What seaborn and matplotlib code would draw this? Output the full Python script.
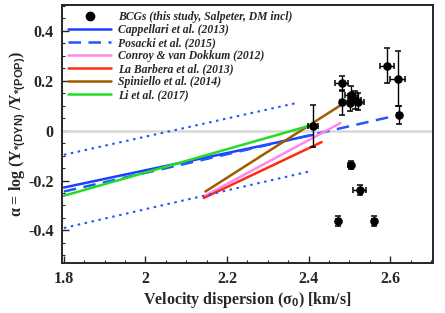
import matplotlib
matplotlib.use("Agg")
import matplotlib.pyplot as plt
import numpy as np
import pandas as pd
import seaborn as sns
from matplotlib.lines import Line2D
from matplotlib.ticker import FuncFormatter, MultipleLocator

# BCG measurements (this study)
bcg_sigma = [2.411, 2.481, 2.481, 2.505, 2.513, 2.521, 2.501, 2.592, 2.618, 2.621,
             2.503, 2.525, 2.472, 2.561]
bcg_alpha = [0.019, 0.190, 0.113, 0.143, 0.123, 0.116, 0.112, 0.260, 0.207, 0.063,
             -0.137, -0.237, -0.364, -0.364]
bcg_sigma_err = [0.013, 0.016, 0.004, 0.016, 0.016, 0.016, 0.004, 0.017, 0.018, 0.004,
                 0.007, 0.016, 0.005, 0.005]
bcg_alpha_err = [0.085, 0.030, 0.050, 0.035, 0.035, 0.035, 0.035, 0.070, 0.110, 0.035,
                 0.015, 0.020, 0.020, 0.020]

# literature relations: (sigma start, sigma end), (alpha start, alpha end)
cappellari_x = [1.80, 2.411]
cappellari_y = [-0.228, -0.017]
posacki_x = [1.80, 2.598]
posacki_y = [-0.244, 0.054]
posacki_hi_x = [1.80, 2.369]
posacki_hi_y = [-0.097, 0.110]
posacki_lo_x = [1.80, 2.401]
posacki_lo_y = [-0.390, -0.164]
conroy_x = [2.146, 2.478]
conroy_y = [-0.261, 0.030]
labarbera_x = [2.143, 2.432]
labarbera_y = [-0.270, -0.046]
spiniello_x = [2.147, 2.503]
spiniello_y = [-0.244, 0.127]
li_x = [1.80, 2.401]
li_y = [-0.261, 0.019]

SERIF = "Liberation Serif"

sns.set_style("ticks")
plt.rcParams["font.family"] = [SERIF, "DejaVu Serif"]
plt.rcParams["mathtext.fontset"] = "custom"
plt.rcParams["mathtext.rm"] = "Liberation Serif:bold"
plt.rcParams["mathtext.it"] = "Liberation Serif:italic:bold"
plt.rcParams["mathtext.bf"] = "Liberation Serif:bold"
plt.rcParams["mathtext.sf"] = "Liberation Sans:bold"


def main() -> None:
    fig = plt.figure(figsize=(4.45, 3.13), dpi=100)
    ax = fig.add_axes([0.139, 0.16, 0.834, 0.824])

    ax.axhline(0, color="#d8d8d8", lw=1.8, zorder=1)

    lines = [
        (cappellari_x, cappellari_y, "#1f3fff", "-", "Cappellari et al. (2013)"),
        (posacki_x, posacki_y, "#2255ff", (0, (5, 3)), "Posacki et al. (2015)"),
        (conroy_x, conroy_y, "#ff88ee", "-", "Conroy & van Dokkum (2012)"),
        (labarbera_x, labarbera_y, "#ff2a10", "-", "La Barbera et al. (2013)"),
        (spiniello_x, spiniello_y, "#a05a00", "-", "Spiniello et al. (2014)"),
        (li_x, li_y, "#22dd22", "-", "Li et al. (2017)"),
    ]
    for xs, ys, col, ls, lab in lines:
        sns.lineplot(x=xs, y=ys, color=col, linestyle=ls, lw=1.8, ax=ax, zorder=2)
    for xs, ys in [(posacki_hi_x, posacki_hi_y), (posacki_lo_x, posacki_lo_y)]:
        sns.lineplot(x=xs, y=ys, color="#2255ff", linestyle=(0, (1.2, 2.2)), lw=1.5, ax=ax, zorder=2)

    ax.errorbar(bcg_sigma, bcg_alpha, xerr=bcg_sigma_err, yerr=bcg_alpha_err,
                fmt="none", ecolor="black", elinewidth=1.0, capsize=2.5, capthick=1.1, zorder=3)
    sns.scatterplot(x=bcg_sigma, y=bcg_alpha, color="black", s=38, edgecolor="black",
                    linewidth=0, ax=ax, zorder=4)

    ax.set_xlim(1.795, 2.705)
    ax.set_ylim(-0.53, 0.503)
    ax.xaxis.set_major_locator(MultipleLocator(0.2))
    ax.xaxis.set_minor_locator(MultipleLocator(0.05))
    ax.yaxis.set_major_locator(MultipleLocator(0.2))
    ax.yaxis.set_minor_locator(MultipleLocator(0.05))
    fmt = FuncFormatter(lambda v, p: f"{v:g}" if abs(v) > 1e-9 else "0")
    ax.xaxis.set_major_formatter(fmt)
    ax.yaxis.set_major_formatter(fmt)
    ax.tick_params(which="both", direction="in", top=False, right=False)
    ax.tick_params(which="major", length=5, width=1.0, labelsize=11.5, pad=6)
    ax.tick_params(which="minor", length=2.5, width=0.8)
    for lab in ax.get_xticklabels() + ax.get_yticklabels():
        lab.set_fontweight("bold")
    for sp in ax.spines.values():
        sp.set_linewidth(1.4)
        sp.set_visible(True)

    ax.set_xlabel(r"Velocity dispersion (σ$_{\mathsf{0}}$) [km/s]", fontsize=11.5,
                  fontweight="bold", labelpad=2)
    ax.set_ylabel(r"α = log (Υ$_{\mathsf{*(DYN)}}$ /Υ$_{\mathsf{*(POP)}}$)", fontsize=11.5,
                  fontweight="bold", labelpad=0)
    ax.yaxis.set_label_coords(-0.09, 0.5)

    handles = [Line2D([], [], marker="o", color="black", ls="none", markersize=6)]
    labels = ["BCGs (this study, Salpeter, DM incl)"]
    for xs, ys, col, ls, lab in lines:
        handles.append(Line2D([], [], color=col, linestyle=ls, lw=1.8))
        labels.append(lab)
    ax.legend(handles, labels, loc="upper left", bbox_to_anchor=(0.0, 1.0),
              frameon=False, handlelength=3.7, labelspacing=0.08, borderaxespad=0.15,
              handletextpad=0.6, prop={"family": SERIF, "weight": "bold",
                                       "style": "italic", "size": 8.4})

    fig.savefig("out.png", dpi=100)
    plt.close(fig)


if __name__ == "__main__":
    main()
